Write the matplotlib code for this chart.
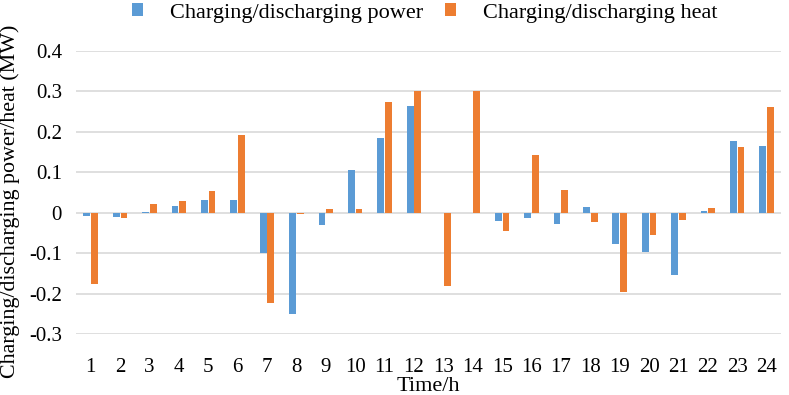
#!/usr/bin/env python3

import numpy as np
import matplotlib
matplotlib.use("Agg")
import matplotlib.pyplot as plt

hours = list(range(1, 25))
power = [-0.007, -0.011, 0.001, 0.016, 0.032, 0.032, -0.099, -0.249, -0.030, 0.105,
         0.184, 0.265, 0.0, 0.0, -0.021, -0.013, -0.027, 0.014, -0.077, -0.097,
         -0.154, 0.004, 0.177, 0.164]
heat = [-0.177, -0.012, 0.021, 0.030, 0.053, 0.192, -0.222, -0.002, 0.010, 0.010,
        0.273, 0.300, -0.181, 0.300, -0.044, 0.143, 0.056, -0.023, -0.195, -0.056,
        -0.018, 0.011, 0.162, 0.261]
yticks = [-0.3, -0.2, -0.1, 0, 0.1, 0.2, 0.3, 0.4]
ytick_labels = ["-0.3", "-0.2", "-0.1", "0", "0.1", "0.2", "0.3", "0.4"]

plt.rcParams['font.family'] = ['Liberation Serif', 'DejaVu Serif']

fig = plt.figure(figsize=(7.89, 3.95), dpi=100)
ax = fig.add_axes([0.0963, 0.154, 0.894, 0.717])

x = np.array(hours)
width = 0.23
ax.bar(x - 0.13, power, width, color='#5B9BD5', label='Charging/discharging power', zorder=3)
ax.bar(x + 0.13, heat, width, color='#ED7D31', label='Charging/discharging heat', zorder=3)

ax.set_xlim(0.5, 24.5)
ax.set_ylim(-0.3, 0.4)
ax.set_yticks(yticks)
ax.set_yticklabels(ytick_labels)
ax.set_xticks(x)
ax.set_xticklabels([str(h) for h in hours])
ax.tick_params(axis='both', length=0, labelsize=15)
ax.tick_params(axis='y', pad=10)
ax.tick_params(axis='x', pad=17)

ax.grid(axis='y', color='#D9D9D9', linewidth=1.2, zorder=0)
for s in ax.spines.values():
    s.set_visible(False)

ax.set_xlabel('Time/h', fontsize=16, labelpad=0)
ax.set_ylabel('Charging/discharging power/heat (MW)', fontsize=15.8)
ax.yaxis.set_label_coords(-0.079, 0.47)

fig.legend(loc='center left', bbox_to_anchor=(0.1673, 0.967), ncol=2, frameon=False,
           fontsize=16, handlelength=0.5, handleheight=0.5, columnspacing=1.0,
           handletextpad=1.2, borderaxespad=0, borderpad=0)

fig.savefig('out.png', dpi=100)
